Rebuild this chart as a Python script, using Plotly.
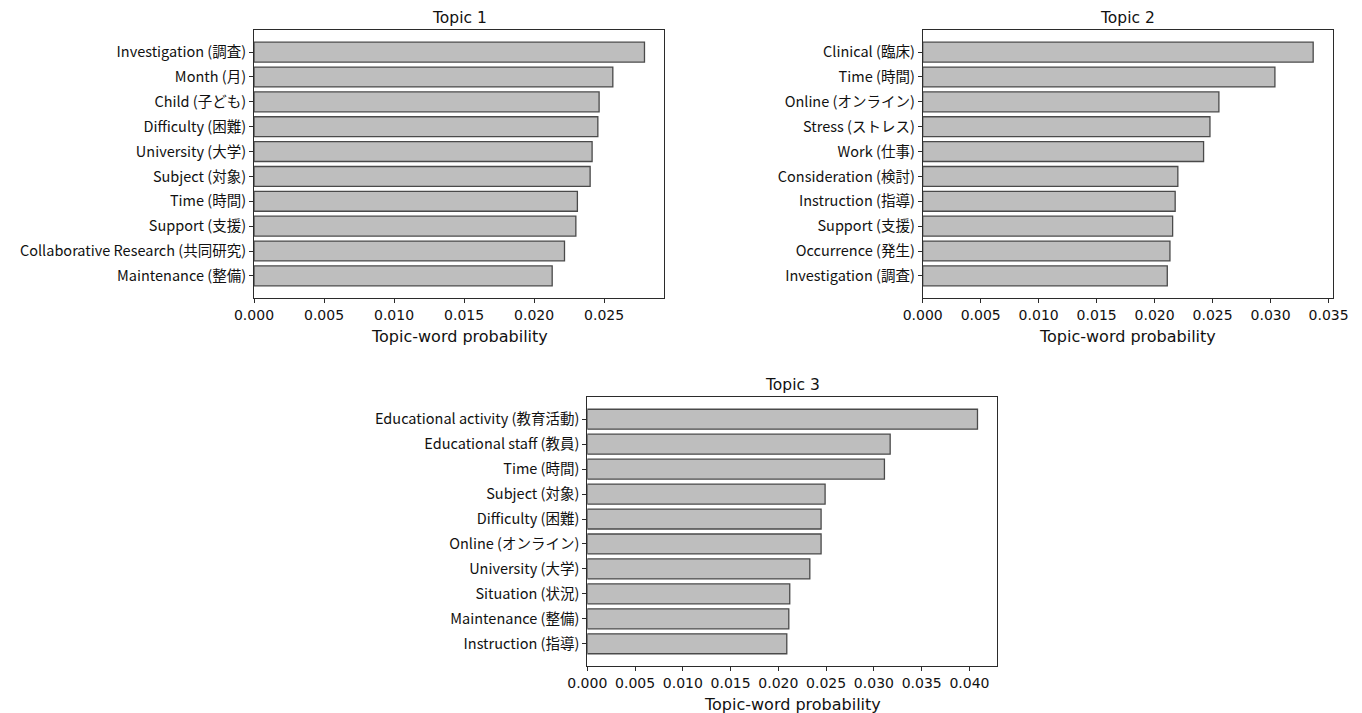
import plotly.graph_objects as go

# Top words per topic (English gloss with Japanese term) and their probabilities
topic1_words = [
    "Investigation (調査)", "Month (月)", "Child (子ども)", "Difficulty (困難)",
    "University (大学)", "Subject (対象)", "Time (時間)", "Support (支援)",
    "Collaborative Research (共同研究)", "Maintenance (整備)",
]
topic1_probs = [0.02788, 0.02562, 0.02464, 0.02455, 0.02414,
                0.02400, 0.02309, 0.02298, 0.02217, 0.02129]

topic2_words = [
    "Clinical (臨床)", "Time (時間)", "Online (オンライン)", "Stress (ストレス)",
    "Work (仕事)", "Consideration (検討)", "Instruction (指導)", "Support (支援)",
    "Occurrence (発生)", "Investigation (調査)",
]
topic2_probs = [0.03367, 0.03037, 0.02554, 0.02477, 0.02422,
                0.02200, 0.02177, 0.02155, 0.02132, 0.02109]

topic3_words = [
    "Educational activity (教育活動)", "Educational staff (教員)", "Time (時間)",
    "Subject (対象)", "Difficulty (困難)", "Online (オンライン)", "University (大学)",
    "Situation (状況)", "Maintenance (整備)", "Instruction (指導)",
]
topic3_probs = [0.04084, 0.03170, 0.03110, 0.02489, 0.02447,
                0.02447, 0.02329, 0.02119, 0.02109, 0.02088]

titles = ["Topic 1", "Topic 2", "Topic 3"]
x_title = "Topic-word probability"

W, H = 1362, 713


def fx(px):
    return px / W


def fy(py):
    return 1 - py / H


# Panel boxes in pixels: (left, right, top, bottom)
boxes = [
    (254, 664, 30, 298),
    (922.7, 1332.7, 30, 298),
    (587.3, 997, 397, 666),
]

BAR_FILL = "#bebebe"
BAR_EDGE = "#4a4a4a"
SPINE = "#2b2b2b"
TEXT = "#111111"
TICK_FONT = dict(family="DejaVu Sans", size=14, color=TEXT)
LABEL_FONT = dict(family="Noto Sans CJK JP", size=14.5, color=TEXT)

fig = go.Figure()
data = [(topic1_words, topic1_probs), (topic2_words, topic2_probs),
        (topic3_words, topic3_probs)]

annotations = []
for i, ((words, probs), box, title) in enumerate(zip(data, boxes, titles)):
    n = i + 1
    xa = "x" if n == 1 else f"x{n}"
    ya = "y" if n == 1 else f"y{n}"
    fig.add_trace(go.Bar(
        x=probs, y=words, orientation="h",
        marker=dict(color=BAR_FILL, line=dict(color=BAR_EDGE, width=1.3)),
        xaxis=xa, yaxis=ya, showlegend=False,
        hovertemplate="%{y}: %{x:.4f}<extra></extra>",
    ))
    left, right, top, bottom = box
    xmax = 1.05 * max(probs)
    nb = len(words)
    pad = 0.4 + 0.05 * (nb - 1 + 0.8)
    xkey = "xaxis" if n == 1 else f"xaxis{n}"
    ykey = "yaxis" if n == 1 else f"yaxis{n}"
    fig.update_layout(**{
        xkey: dict(
            domain=[fx(left), fx(right)], anchor=ya, range=[0, xmax],
            tick0=0, dtick=0.005, tickformat=".3f", automargin=False,
            ticks="outside", ticklen=4, tickwidth=1, tickcolor=SPINE,
            showline=True, linecolor=SPINE, linewidth=1, mirror=True,
            showgrid=False, zeroline=False, tickfont=TICK_FONT,
        ),
        ykey: dict(
            domain=[fy(bottom), fy(top)], anchor=xa, type="category",
            categoryorder="array", categoryarray=words, automargin=False,
            range=[nb - 1 + pad, -pad],
            ticks="outside", ticklen=4, tickwidth=1, tickcolor=SPINE,
            showline=True, linecolor=SPINE, linewidth=1, mirror=True,
            showgrid=False, zeroline=False, tickfont=LABEL_FONT,
        ),
    })
    cx = fx((left + right) / 2)
    annotations.append(dict(
        text=title, x=cx, y=fy(top - 12), xref="paper", yref="paper",
        xanchor="center", yanchor="middle", showarrow=False,
        font=dict(family="DejaVu Sans", size=15.5, color=TEXT),
    ))
    annotations.append(dict(
        text=x_title, x=cx, y=fy(bottom + 38), xref="paper", yref="paper",
        xanchor="center", yanchor="middle", showarrow=False,
        font=dict(family="DejaVu Sans", size=16, color=TEXT),
    ))

fig.update_layout(
    width=W, height=H,
    margin=dict(l=0, r=0, t=0, b=0),
    paper_bgcolor="white", plot_bgcolor="white",
    bargap=0.2,
    annotations=annotations,
)

fig.write_html("out.html")
